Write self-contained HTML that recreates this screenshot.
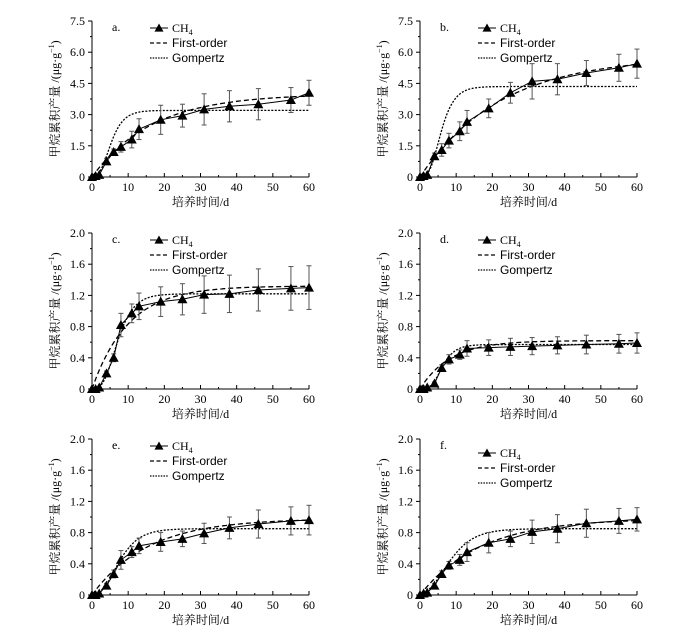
<!DOCTYPE html>
<html><head><meta charset="utf-8"><style>
body{margin:0;background:#fff;}
svg{display:block;font-family:"Liberation Serif","Noto Serif CJK SC",serif;}
</style></head><body>
<svg id="chart" width="695" height="633" viewBox="0 0 695 633"></svg>
<script>
const days = [0,1,2,4,6,8,11,13,19,25,31,38,46,55,60];
const panelLabels = ['a.','b.','c.','d.','e.','f.'];
const yMaxes = [7.5,7.5,2.0,2.0,2.0,2.0];
const yTicksA = ['0','1.5','3.0','4.5','6.0','7.5'];
const yTicksC = ['0','0.4','0.8','1.2','1.6','2.0'];
const xTicks = [0,10,20,30,40,50,60];
const seriesA = [0,0.05,0.1,0.75,1.2,1.45,1.8,2.3,2.75,2.95,3.25,3.4,3.5,3.7,4.05];
const errA = [0,0,0,0.15,0.15,0.25,0.4,0.5,0.7,0.55,0.75,0.75,0.75,0.6,0.6];
const seriesB = [0,0.05,0.1,1.0,1.3,1.75,2.2,2.65,3.3,4.05,4.6,4.7,5.0,5.25,5.45];
const errB = [0,0,0,0.15,0.3,0.35,0.45,0.55,0.45,0.5,0.85,0.75,0.6,0.65,0.7];
const seriesC = [0,0,0.02,0.2,0.4,0.82,0.97,1.06,1.12,1.15,1.21,1.22,1.27,1.29,1.3];
const errC = [0,0,0,0.03,0.05,0.15,0.12,0.17,0.19,0.2,0.24,0.24,0.27,0.28,0.28];
const seriesD = [0,0,0.02,0.07,0.27,0.38,0.44,0.52,0.53,0.54,0.55,0.56,0.57,0.58,0.59];
const errD = [0,0,0,0.02,0.04,0.06,0.06,0.1,0.1,0.11,0.11,0.11,0.12,0.12,0.13];
const seriesE = [0,0,0.02,0.12,0.27,0.45,0.55,0.63,0.68,0.72,0.79,0.86,0.91,0.95,0.96];
const errE = [0,0,0,0.03,0.05,0.12,0.07,0.1,0.12,0.1,0.13,0.14,0.18,0.18,0.19];
const seriesF = [0,0.02,0.03,0.12,0.27,0.38,0.45,0.55,0.67,0.72,0.81,0.85,0.92,0.95,0.97];
const errF = [0,0,0,0.03,0.04,0.05,0.07,0.12,0.13,0.1,0.15,0.18,0.18,0.16,0.15];
const foA = [4.0,5.8,1.32,0.62,0.98,0.98];
const foK = [0.06,0.045,0.1,0.12,0.065,0.06];
const gA = [3.2,4.35,1.22,0.57,0.85,0.85];
const gRm = [0.5,0.65,0.15,0.09,0.085,0.07];
const gLam = [2,2.5,3,3,2.5,2];

const allSeries=[seriesA,seriesB,seriesC,seriesD,seriesE,seriesF];
const allErr=[errA,errB,errC,errD,errE,errF];
const lefts=[92,420,92,420,92,420], tops=[21,21,233,233,439,439];
const W=217,H=156;
const svg=document.getElementById('chart');
const NS='http://www.w3.org/2000/svg';
function mk(tag,attrs,parent){const e=document.createElementNS(NS,tag);for(const k in attrs)e.setAttribute(k,attrs[k]);(parent||svg).appendChild(e);return e;}
function tri(g,x,y,s){return mk('polygon',{points:`${x},${y-s} ${x-s},${y+s*0.8} ${x+s},${y+s*0.8}`,fill:'#000'},g);}

for(let p=0;p<6;p++){
  const L=lefts[p],T=tops[p],B=T+H,ym=yMaxes[p];
  const sx=v=>L+v/60*W, sy=v=>B-v/ym*H;
  const g=mk('g',{});
  
  
  mk('line',{x1:L,y1:T,x2:L,y2:B,stroke:'#000','stroke-width':1},g);
  mk('line',{x1:L,y1:B,x2:L+W,y2:B,stroke:'#000','stroke-width':1},g);
  const yl=p<2?yTicksA:yTicksC;
  yl.forEach((t,i)=>{const y=B-i*H/5;
    mk('line',{x1:L-4,y1:y,x2:L,y2:y,stroke:'#000'},g);
    if(i<5)mk('line',{x1:L-2,y1:y-H/10,x2:L,y2:y-H/10,stroke:'#000'},g);
    const tx=mk('text',{x:L-7,y:y+4,'text-anchor':'end','font-size':12},g);tx.textContent=t;});
  xTicks.forEach(t=>{const x=sx(t);
    mk('line',{x1:x,y1:B,x2:x,y2:B-4,stroke:'#000'},g);
    if(t<60)mk('line',{x1:sx(t+5),y1:B,x2:sx(t+5),y2:B-2,stroke:'#000'},g);
    const tx=mk('text',{x:x,y:B+14,'text-anchor':'middle','font-size':12},g);tx.textContent=t;});
  const xt=mk('text',{x:L+W/2,y:B+29,'text-anchor':'middle','font-size':12},g);xt.textContent='培养时间/d';
  
  const yt=mk('text',{x:0,y:0,'text-anchor':'middle','font-size':12,transform:`translate(${L-33},${(T+B)/2}) rotate(-90)`},g);
  yt.innerHTML='甲烷累积产量 /(μg·g<tspan dy="-5" font-size="8">−1</tspan><tspan dy="5">)</tspan>';
  
  const pl=mk('text',{x:L+20,y:T+10,'font-size':12},g);pl.textContent=panelLabels[p];
  // curves
  let fo='',gp='';
  for(let i=0;i<=120;i++){const t=i*0.5;
    const f=foA[p]*(1-Math.exp(-foK[p]*t));
    const gg=gA[p]*Math.exp(-Math.exp(gRm[p]*Math.E/gA[p]*(gLam[p]-t)+1));
    fo+=(i?'L':'M')+sx(t).toFixed(1)+','+sy(f).toFixed(1);
    gp+=(i?'L':'M')+sx(t).toFixed(1)+','+sy(gg).toFixed(1);}
  const c1=mk('path',{d:fo,fill:'none',stroke:'#000','stroke-width':1.3,'stroke-dasharray':'5,3'},g);
  
  const c2=mk('path',{d:gp,fill:'none',stroke:'#000','stroke-width':1.3,'stroke-dasharray':'2,1.5'},g);
  
  const s=allSeries[p],e=allErr[p];
  const pts=s.map((v,i)=>sx(days[i])+','+sy(v)).join(' ');
  const ln=mk('polyline',{points:pts,fill:'none',stroke:'#000','stroke-width':1},g);
  
  s.forEach((v,i)=>{const x=sx(days[i]);
    if(e[i]>0){mk('line',{x1:x,y1:sy(v-e[i]),x2:x,y2:sy(v+e[i]),stroke:'#555'},g);
      mk('line',{x1:x-2.5,y1:sy(v+e[i]),x2:x+2.5,y2:sy(v+e[i]),stroke:'#555'},g);
      mk('line',{x1:x-2.5,y1:sy(v-e[i]),x2:x+2.5,y2:sy(v-e[i]),stroke:'#555'},g);}
    const m=tri(g,x,sy(v),5);
    });
  // legend
  const lx=L+(p<2?58:58),ly=T+7+(p===5?7:0);
  const lg=mk('g',{},g);
  
  mk('line',{x1:lx,y1:ly,x2:lx+18,y2:ly,stroke:'#000'},lg);tri(lg,lx+9,ly,4.5);
  const t1=mk('text',{x:lx+22,y:ly+4,'font-size':12},lg);t1.innerHTML='CH<tspan dy="3" font-size="8">4</tspan>';
  mk('line',{x1:lx,y1:ly+15,x2:lx+18,y2:ly+15,stroke:'#000','stroke-width':1.2,'stroke-dasharray':'4,2.5'},lg);
  const t2=mk('text',{x:lx+22,y:ly+19,'font-size':12,'font-family':'Liberation Sans, sans-serif'},lg);t2.textContent='First-order';
  mk('line',{x1:lx,y1:ly+30,x2:lx+18,y2:ly+30,stroke:'#000','stroke-width':1.2,'stroke-dasharray':'1.5,1.2'},lg);
  const t3=mk('text',{x:lx+22,y:ly+34,'font-size':12,'font-family':'Liberation Sans, sans-serif'},lg);t3.textContent='Gompertz';
}
</script>
</body></html>
